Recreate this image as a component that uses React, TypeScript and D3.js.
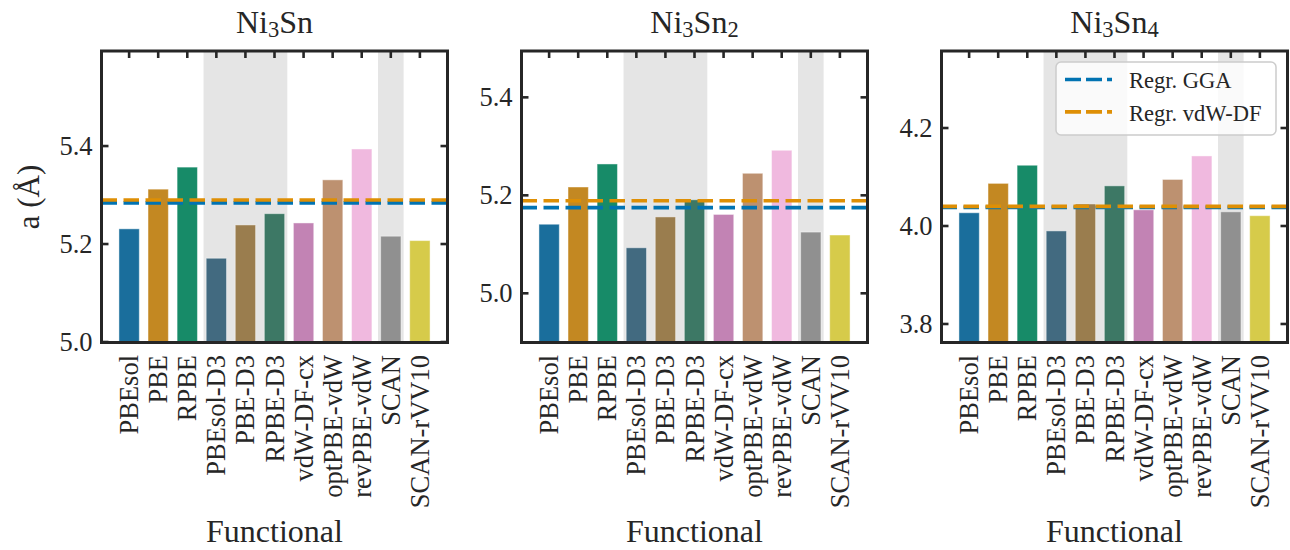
import React from "react";
import * as d3 from "d3";

const categories = [
  "PBEsol", "PBE", "RPBE", "PBEsol-D3", "PBE-D3", "RPBE-D3",
  "vdW-DF-cx", "optPBE-vdW", "revPBE-vdW", "SCAN", "SCAN-rVV10",
];

const valuesNi3Sn = [5.231, 5.312, 5.357, 5.171, 5.239, 5.262, 5.243, 5.331, 5.394, 5.216, 5.207];
const valuesNi3Sn2 = [5.141, 5.217, 5.264, 5.093, 5.156, 5.191, 5.161, 5.245, 5.292, 5.125, 5.119];
const valuesNi3Sn4 = [4.027, 4.087, 4.124, 3.990, 4.045, 4.082, 4.033, 4.095, 4.143, 4.029, 4.021];

const regrGGA = [5.284, 5.175, 4.038];
const regrVdW = [5.290, 5.189, 4.040];

const titleParts = [
  ["Ni", "3", "Sn", ""],
  ["Ni", "3", "Sn", "2"],
  ["Ni", "3", "Sn", "4"],
];

const yDomains = [
  [4.999, 5.594],
  [4.8996, 5.4946],
  [3.7622, 4.3572],
];

const yTicks = [
  [5.0, 5.2, 5.4],
  [5.0, 5.2, 5.4],
  [3.8, 4.0, 4.2],
];

const barColors = [
  "#1a6e9c", "#c38822", "#178b68", "#426a80", "#9a7d4e", "#3d7865",
  "#c283b4", "#bd9170", "#f0b9df", "#909090", "#d6cb4a",
];

const shadedSpans = [[3, 5], [9, 9]];

const legendLabels = ["Regr. GGA", "Regr. vdW-DF"];
const lineColors = ["#0173b2", "#de8f05"];

const FONT = "'Liberation Serif', 'Times New Roman', serif";
const TEXT = "#262626";

const panelLefts = [101.5, 521.5, 941.5];
const panelWidth = 346;
const top = 51;
const bottom = 342.5;

function Panel({ idx, values }: { idx: number; values: number[] }) {
  const left = panelLefts[idx];
  const right = left + panelWidth;
  const x = d3.scaleLinear().domain([-0.95, 10.95]).range([left, right]);
  const y = d3.scaleLinear().domain(yDomains[idx]).range([bottom, top]);
  const bw = x(0.35) - x(-0.35);
  const tick = 7;
  const parts = titleParts[idx];
  const cx = (left + right) / 2;
  return (
    <g>
      <defs>
        <clipPath id={`clip${idx}`}>
          <rect x={left} y={top} width={panelWidth} height={bottom - top} />
        </clipPath>
      </defs>
      <g clipPath={`url(#clip${idx})`}>
        {shadedSpans.map(([a, b], i) => (
          <rect key={i} x={x(a - 0.44)} y={top} width={x(b + 0.44) - x(a - 0.44)} height={bottom - top} fill="#e5e5e5" />
        ))}
        {values.map((v, i) => (
          <rect
            key={i}
            x={x(i) - bw / 2}
            y={y(v)}
            width={bw}
            height={bottom - y(v)}
            fill={barColors[i]}
            stroke="#ffffff"
            strokeOpacity={0.45}
            strokeWidth={1}
          />
        ))}
        <line x1={left} x2={right} y1={y(regrGGA[idx])} y2={y(regrGGA[idx])} stroke={lineColors[0]} strokeWidth={3.6} strokeDasharray="15.5,6.5" />
        <line x1={left} x2={right} y1={y(regrVdW[idx])} y2={y(regrVdW[idx])} stroke={lineColors[1]} strokeWidth={3.6} strokeDasharray="15.5,6.5" />
      </g>
      {categories.map((c, i) => (
        <line key={c} x1={x(i)} x2={x(i)} y1={top} y2={top + tick} stroke={TEXT} strokeWidth={2.6} />
      ))}
      {yTicks[idx].map((t) => (
        <g key={t}>
          <line x1={left} x2={left + tick} y1={y(t)} y2={y(t)} stroke={TEXT} strokeWidth={2.6} />
          <line x1={right - tick} x2={right} y1={y(t)} y2={y(t)} stroke={TEXT} strokeWidth={2.6} />
          <text x={left - 9} y={y(t)} textAnchor="end" dominantBaseline="central" fontSize={26.5} fontFamily={FONT} fill={TEXT}>
            {d3.format(".1f")(t)}
          </text>
        </g>
      ))}
      <rect x={left} y={top} width={panelWidth} height={bottom - top} fill="none" stroke={TEXT} strokeWidth={3} />
      {categories.map((c, i) => (
        <text
          key={c}
          transform={`translate(${x(i)},355) rotate(-90)`}
          textAnchor="end"
          dominantBaseline="central"
          fontSize={26.5}
          fontFamily={FONT}
          fill={TEXT}
        >
          {c}
        </text>
      ))}
      <text x={cx} y={542} textAnchor="middle" fontSize={32} fontFamily={FONT} fill={TEXT}>
        Functional
      </text>
      <text x={cx} y={33} textAnchor="middle" fontSize={32} fontFamily={FONT} fill={TEXT}>
        {parts[0]}
        <tspan fontSize={22.5} dy={4}>{parts[1]}</tspan>
        <tspan dy={-4}>{parts[2]}</tspan>
        {parts[3] ? <tspan fontSize={22.5} dy={4}>{parts[3]}</tspan> : null}
      </text>
    </g>
  );
}

export default function App() {
  const allValues = [valuesNi3Sn, valuesNi3Sn2, valuesNi3Sn4];
  return (
    <svg width={1290} height={550} style={{ display: "block", position: "absolute", left: 0, top: 0 }}>
      <rect width={1290} height={550} fill="#ffffff" />
      {allValues.map((v, i) => (
        <Panel key={i} idx={i} values={v} />
      ))}
      <text transform="translate(39,197) rotate(-90)" textAnchor="middle" fontSize={31} fontFamily={FONT} fill={TEXT}>
        a (Å)
      </text>
      <g>
        <rect x={1056} y={62} width={220} height={73} rx={5} fill="#ffffff" fillOpacity={0.8} stroke="#cccccc" strokeWidth={1.5} />
        {legendLabels.map((l, i) => (
          <g key={l}>
            <line x1={1065} x2={1112} y1={79.5 + i * 32.4} y2={79.5 + i * 32.4} stroke={lineColors[i]} strokeWidth={3.6} strokeDasharray="16,5" />
            <text x={1129} y={88.3 + i * 32.4} fontSize={22.5} fontFamily={FONT} fill={TEXT}>
              {l}
            </text>
          </g>
        ))}
      </g>
    </svg>
  );
}
